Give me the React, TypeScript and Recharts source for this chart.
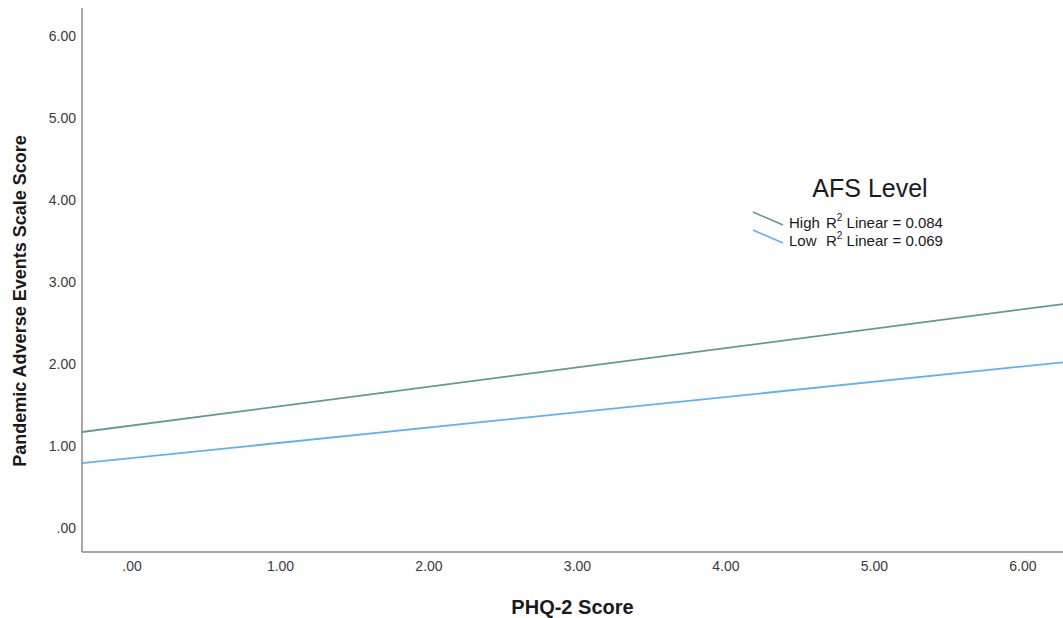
import { LineChart, Line, XAxis, YAxis, Legend, Label } from 'recharts';

// Fitted regression lines for each AFS group, sampled at the plot's left and right edges
const phqScore = [-0.337, 6.27];
const highScores = [1.17, 2.73];
const lowScores = [0.79, 2.02];

const groupNames = ['High', 'Low'];
const groupColors = ['#5f9c8f', '#5cb3ef'];
const rSquared = ['0.084', '0.069'];

const axisTicks = [0, 1, 2, 3, 4, 5, 6];

const data = phqScore.map((x, i) => ({ x, high: highScores[i], low: lowScores[i] }));

const fmt = (v: number) => (v === 0 ? '.00' : v.toFixed(2));

const FONT = '"Liberation Sans", Arial, sans-serif';

const LegendBox = ({ payload }: any) => (
  <svg width={240} height={100} style={{ overflow: 'visible' }}>
    <text x={130} y={28} textAnchor="middle" dominantBaseline="central" fontSize={25} fill="#1a1a1a" fontFamily={FONT}>
      AFS Level
    </text>
    {(payload || []).map((item: any, i: number) => {
      const cy = 62 + i * 18;
      return (
        <g key={item.value}>
          <line x1={13} y1={cy - 10} x2={43} y2={cy + 3} stroke={item.color} strokeWidth={1.6} />
          <text x={49} y={cy} dominantBaseline="central" fontSize={15} fill="#1a1a1a" fontFamily={FONT}>
            {item.value}
          </text>
          <text x={86} y={cy} dominantBaseline="central" fontSize={15} fill="#1a1a1a" fontFamily={'"Liberation Sans Narrow", ' + FONT}>
            R<tspan dy={-5} fontSize={10}>2</tspan>
            <tspan dy={5}> Linear = {rSquared[i]}</tspan>
          </text>
        </g>
      );
    })}
  </svg>
);

export default function App() {
  return (
    <div style={{ position: 'absolute', left: 0, top: 0, width: 1063, height: 618, background: '#fff' }}>
      <LineChart width={1063} height={618} data={data} margin={{ top: 8, right: 0, bottom: 0, left: 0 }}>
        <XAxis
          dataKey="x"
          type="number"
          domain={[-0.337, 6.27]}
          allowDataOverflow
          ticks={axisTicks}
          tickFormatter={fmt}
          height={66}
          tickLine={false}
          tickSize={4}
          tickMargin={5}
          stroke="#8a8a8a"
          strokeWidth={1.5}
          tick={{ fill: '#3a3a3a', fontSize: 14, fontFamily: FONT }}
        >
          <Label value="PHQ-2 Score" position="insideBottom" offset={4} fontSize={20} fontWeight="bold" fill="#1a1a1a" fontFamily={FONT} />
        </XAxis>
        <YAxis
          type="number"
          domain={[-0.293, 6.34]}
          allowDataOverflow
          ticks={axisTicks}
          tickFormatter={fmt}
          width={82}
          tickLine={false}
          tickSize={4}
          tickMargin={2}
          stroke="#8a8a8a"
          strokeWidth={1.5}
          tick={{ fill: '#3a3a3a', fontSize: 14, fontFamily: FONT }}
        >
          <Label
            content={() => (
              <text
                transform="translate(20,301) rotate(-90)"
                textAnchor="middle"
                dominantBaseline="central"
                fontSize={18}
                fontWeight="bold"
                fill="#1a1a1a"
                fontFamily={FONT}
              >
                Pandemic Adverse Events Scale Score
              </text>
            )}
          />
        </YAxis>
        <Legend
          layout="horizontal"
          verticalAlign="middle"
          align="center"
          wrapperStyle={{ position: 'absolute', left: 740, top: 160, width: 240, height: 100 }}
          content={LegendBox}
        />
        <Line dataKey="high" name={groupNames[0]} stroke={groupColors[0]} strokeWidth={1.8} dot={false} isAnimationActive={false} />
        <Line dataKey="low" name={groupNames[1]} stroke={groupColors[1]} strokeWidth={1.8} dot={false} isAnimationActive={false} />
      </LineChart>
    </div>
  );
}
